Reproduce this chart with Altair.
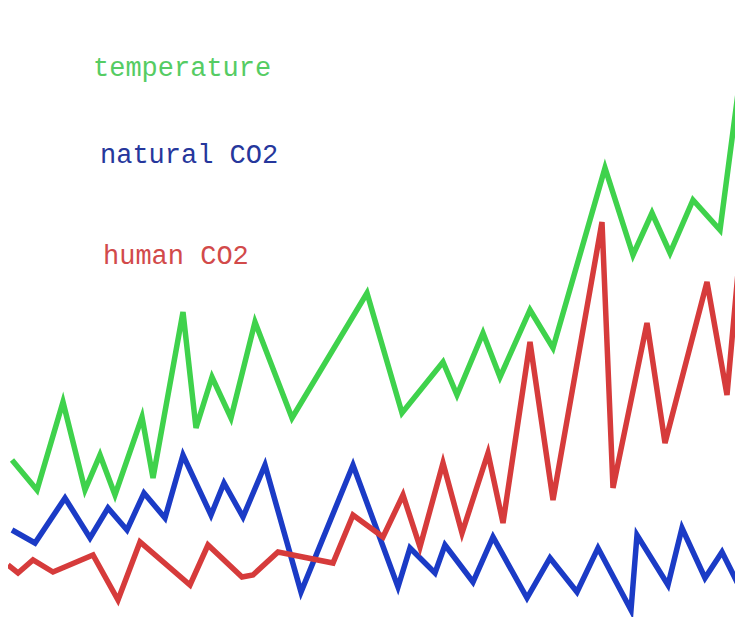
import altair as alt
import pandas as pd

# temperature (green) readings: x position, value
temp_x = [12, 37, 63, 85, 100, 115, 142, 153, 183, 196, 212, 231, 255, 292, 367,
          402, 443, 457, 483, 500, 530, 553, 605, 633, 652, 670, 693, 720, 742]
temp_y = [165, 135, 223, 135, 170, 130, 208, 147, 313, 197, 248, 207, 303, 207, 332,
          212, 263, 230, 292, 248, 315, 277, 457, 370, 412, 372, 425, 395, 562]

# natural CO2 (blue)
nat_x = [12, 35, 65, 90, 108, 127, 144, 165, 183, 211, 224, 243, 265, 301, 353,
         398, 410, 435, 445, 473, 493, 527, 550, 577, 598, 631, 637, 668, 682, 705, 722, 742]
nat_y = [95, 82, 127, 87, 117, 95, 132, 107, 170, 110, 142, 108, 160, 33, 160,
         38, 77, 52, 80, 43, 88, 27, 67, 33, 77, 15, 90, 40, 97, 47, 73, 33]

# human CO2 (red)
hum_x = [8, 18, 33, 53, 93, 118, 140, 190, 208, 242, 253, 278, 333, 353, 383,
         403, 420, 443, 462, 488, 503, 530, 553, 602, 613, 647, 665, 707, 727, 742]
hum_y = [60, 52, 65, 53, 70, 25, 83, 40, 80, 48, 50, 73, 62, 110, 88,
         130, 78, 162, 92, 172, 102, 283, 125, 403, 137, 302, 182, 343, 230, 397]

labels = ["temperature", "natural CO2", "human CO2"]
label_x = [93, 100, 103]
label_y = [557, 470, 369]
series_colors = ["#3fd24c", "#1b3bc6", "#d63b3b"]
label_colors = ["#55cc63", "#26379c", "#d24a4a"]

rows = []
for name, xs, ys in [("temperature", temp_x, temp_y),
                     ("natural CO2", nat_x, nat_y),
                     ("human CO2", hum_x, hum_y)]:
    for i, (xv, yv) in enumerate(zip(xs, ys)):
        rows.append({"series": name, "t": xv, "v": yv, "order": i})
df = pd.DataFrame(rows)
lab = pd.DataFrame({"label": labels, "t": label_x, "v": label_y})

xs = alt.Scale(domain=[8, 735], nice=False, zero=False)
ys = alt.Scale(domain=[8, 617], nice=False, zero=False)

lines = alt.Chart(df).mark_line(strokeWidth=5.5, strokeJoin="miter", clip=True).encode(
    x=alt.X("t:Q", scale=xs, axis=None),
    y=alt.Y("v:Q", scale=ys, axis=None),
    color=alt.Color("series:N", scale=alt.Scale(domain=labels, range=series_colors), legend=None),
    order="order:Q",
    detail="series:N",
)

text = alt.Chart(lab).mark_text(
    align="left", baseline="middle", font="Liberation Mono", fontSize=27
).encode(
    x=alt.X("t:Q", scale=xs, axis=None),
    y=alt.Y("v:Q", scale=ys, axis=None),
    text="label:N",
    color=alt.Color("label:N", scale=alt.Scale(domain=labels, range=label_colors), legend=None),
)

chart = alt.layer(lines, text).resolve_scale(color="independent").properties(
    width=727, height=609, padding=0, autosize=alt.AutoSizeParams(type="none"),
    background="white",
).configure_view(stroke=None)

chart.save("out.html", embed_options={"renderer": "svg", "actions": False})
